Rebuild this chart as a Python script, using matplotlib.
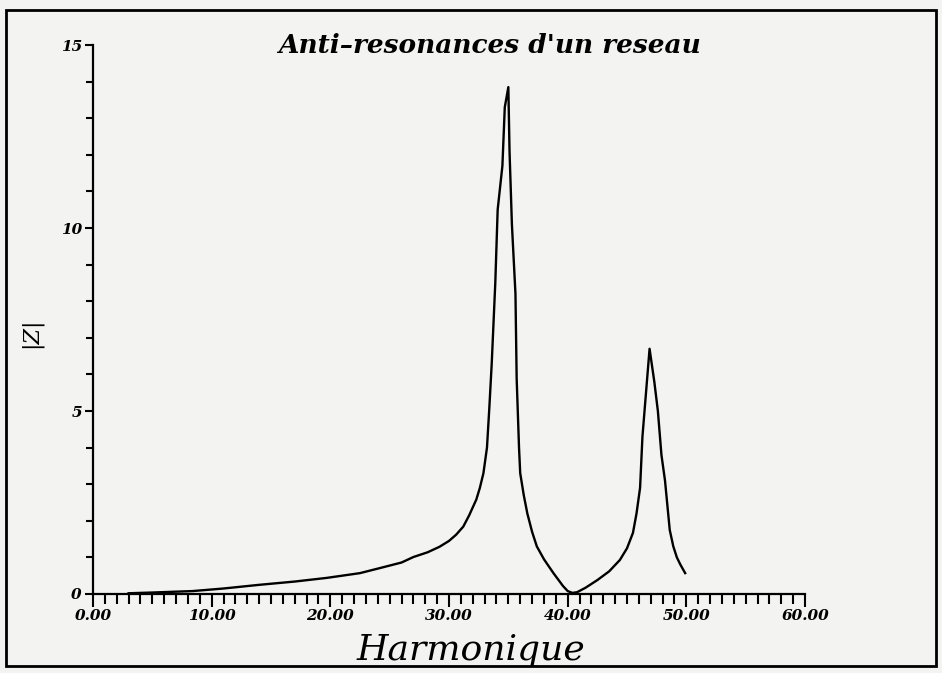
import matplotlib
matplotlib.use("Agg")
import matplotlib.pyplot as plt
from matplotlib.patches import Rectangle
from matplotlib.ticker import MultipleLocator

# Courbe |Z| (harmonique, module)
harmonique = [3.0, 5.0, 8.4, 11.0, 14.0, 17.0, 19.7, 22.5, 24.2, 26.0, 27.0,
              28.2, 29.2, 30.0, 30.6, 31.2, 31.7, 32.3, 32.6, 32.9, 33.2,
              33.4, 33.6, 33.9, 34.1, 34.5, 34.7, 35.0, 35.1, 35.3, 35.6,
              35.7, 35.9, 36.0, 36.3, 36.6, 37.0, 37.4, 38.0, 38.8, 39.6,
              40.0, 40.4, 40.8, 41.5, 42.5, 43.5, 44.4, 45.0, 45.5, 45.8,
              46.1, 46.3, 46.6, 46.9, 47.3, 47.6, 47.9, 48.2, 48.6, 48.9,
              49.2, 49.5, 49.9]
module_z = [0.02, 0.04, 0.08, 0.15, 0.25, 0.34, 0.44, 0.57, 0.71, 0.86, 1.01,
            1.14, 1.29, 1.45, 1.62, 1.84, 2.15, 2.58, 2.9, 3.3, 4.0,
            5.1, 6.3, 8.5, 10.5, 11.7, 13.3, 13.85, 12.1, 10.1, 8.2,
            5.9, 4.0, 3.3, 2.7, 2.2, 1.7, 1.3, 0.95, 0.57, 0.22,
            0.08, 0.03, 0.05, 0.17, 0.38, 0.62, 0.93, 1.25, 1.67, 2.2,
            2.9, 4.3, 5.5, 6.7, 5.8, 5.0, 3.8, 3.1, 1.75, 1.3,
            1.0, 0.8, 0.57]

x_ticks = [0, 10, 20, 30, 40, 50, 60]
x_labels = ["0.00", "10.00", "20.00", "30.00", "40.00", "50.00", "60.00"]
y_ticks = [0, 5, 10, 15]
y_labels = ["0", "5", "10", "15"]

fond = "#f3f3f1"
fig = plt.figure(figsize=(9.42, 6.73), dpi=100, facecolor=fond)
ax = fig.add_axes([0.0987, 0.1174, 0.7559, 0.8157])
ax.set_facecolor(fond)

ax.plot(harmonique, module_z, color="black", linewidth=1.7)

ax.set_xlim(0, 60)
ax.set_ylim(0, 15)
for s in ["top", "right"]:
    ax.spines[s].set_visible(False)
for s in ["left", "bottom"]:
    ax.spines[s].set_linewidth(1.6)

ax.set_xticks(x_ticks)
ax.set_xticklabels(x_labels)
ax.set_yticks(y_ticks)
ax.set_yticklabels(y_labels)
ax.xaxis.set_minor_locator(MultipleLocator(1))
ax.yaxis.set_minor_locator(MultipleLocator(1))
ax.tick_params(axis="both", which="both", direction="out", width=1.5, color="black")
ax.tick_params(axis="x", which="major", length=9, pad=2)
ax.tick_params(axis="x", which="minor", length=7)
ax.tick_params(axis="y", which="major", length=6, pad=2)
ax.tick_params(axis="y", which="minor", length=5)
for lab in ax.get_xticklabels() + ax.get_yticklabels():
    lab.set_fontfamily("DejaVu Serif")
    lab.set_fontstyle("italic")
    lab.set_fontweight("bold")
    lab.set_fontsize(11)

fig.text(0.52, 0.933, "Anti\u2013resonances d'un reseau", ha="center", va="center",
         family="DejaVu Serif", style="italic", weight="bold", fontsize=19)
fig.text(0.50, 0.034, "Harmonique", ha="center", va="center",
         family="DejaVu Serif", style="italic", fontsize=26)
fig.text(0.033, 0.505, "|Z|", ha="center", va="center", rotation=90,
         family="DejaVu Serif", style="italic", fontsize=16)

# cadre autour de la page
fig.patches.append(Rectangle((0.006, 0.01), 0.988, 0.975, transform=fig.transFigure,
                             fill=False, edgecolor="black", linewidth=2.0))

fig.savefig("out.png", dpi=100, facecolor=fond)
